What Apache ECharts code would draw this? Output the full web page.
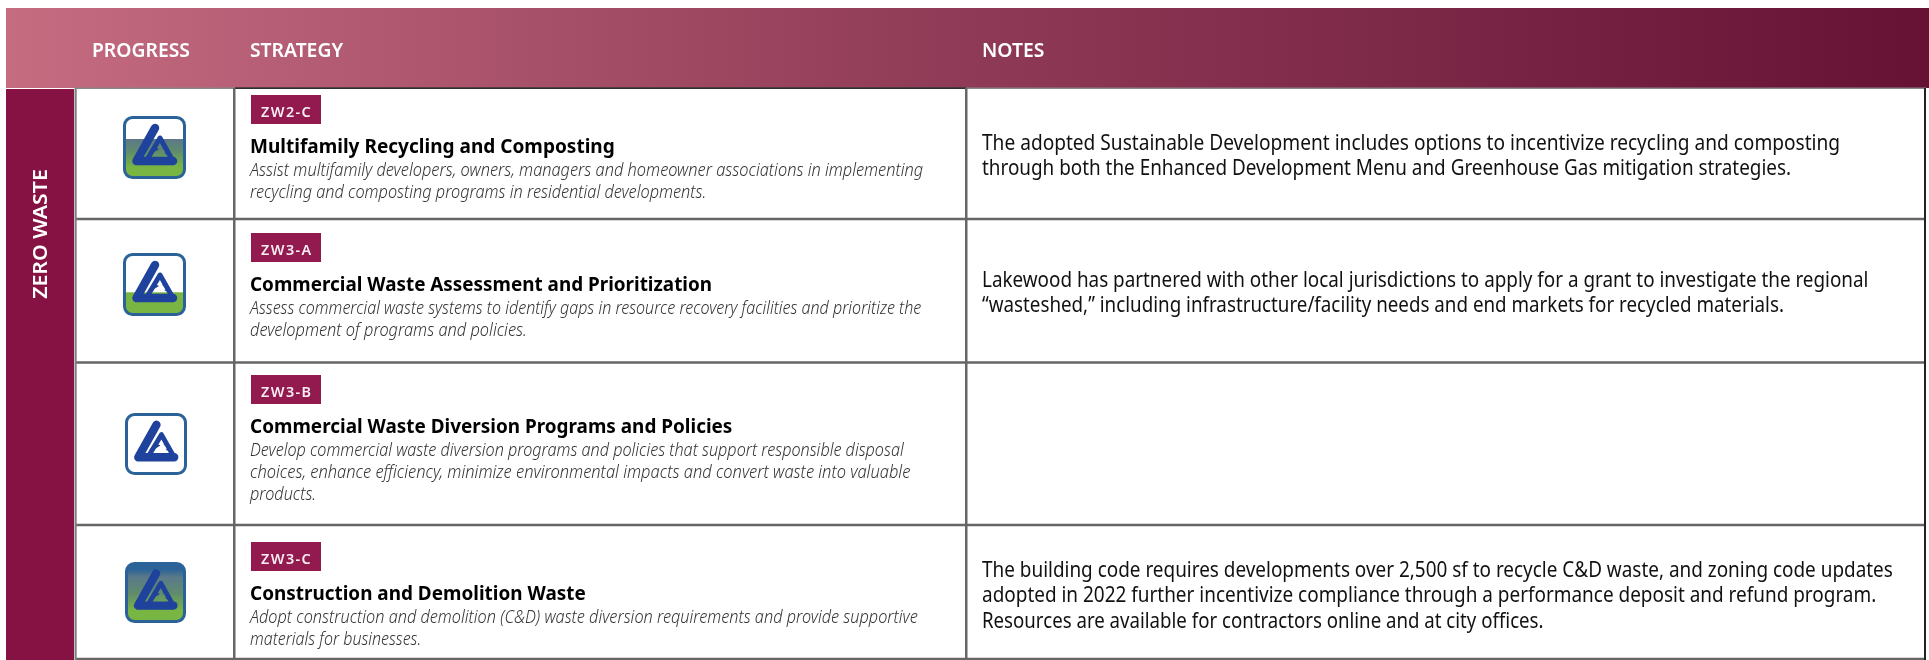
<!DOCTYPE html>
<html><head><meta charset="utf-8">
<style>html,body{margin:0;padding:0;background:#fff}#c{width:1929px;height:660px}</style>
<script src="https://cdn.jsdelivr.net/npm/echarts@6/dist/echarts.min.js"></script>
</head><body><div id="c"></div>
<script>
// ---- data ----
var sectionLabel = 'ZERO WASTE';
var columnHeaders = ['PROGRESS', 'STRATEGY', 'NOTES'];
var codes = ['ZW2-C', 'ZW3-A', 'ZW3-B', 'ZW3-C'];
var titles = ['Multifamily Recycling and Composting','Commercial Waste Assessment and Prioritization','Commercial Waste Diversion Programs and Policies','Construction and Demolition Waste'];
var descriptions = [
 ['Assist multifamily developers, owners, managers and homeowner associations in implementing','recycling and composting programs in residential developments.'],
 ['Assess commercial waste systems to identify gaps in resource recovery facilities and prioritize the','development of programs and policies.'],
 ['Develop commercial waste diversion programs and policies that support responsible disposal','choices, enhance efficiency, minimize environmental impacts and convert waste into valuable','products.'],
 ['Adopt construction and demolition (C&D) waste diversion requirements and provide supportive','materials for businesses.']
];
var notes = [
 ['The adopted Sustainable Development includes options to incentivize recycling and composting','through both the Enhanced Development Menu and Greenhouse Gas mitigation strategies.'],
 ['Lakewood has partnered with other local jurisdictions to apply for a grant to investigate the regional','\u201cwasteshed,\u201d including infrastructure/facility needs and end markets for recycled materials.'],
 [],
 ['The building code requires developments over 2,500 sf to recycle C&D waste, and zoning code updates','adopted in 2022 further incentivize compliance through a performance deposit and refund program.','Resources are available for contractors online and at city offices.']
];
var progressState = ['mid', 'low', 'none', 'high'];
// ---- layout ----
var FONT = '"Noto Sans"';
var rowLines = [88, 219, 362.5, 525, 659];
var tagTops = [95, 233, 375, 542];
var noteFirstBaseline = [149, 286, 0, 576];
var iconBoxes = [[123,116,63],[123,253,63],[125,413,62],[125,562,61]];
var descFit = [[.934,.9295],[.917,.935],[.9235,.939,.927],[.929,.914]];
var noteFit = [[.9098,.899],[.898,.894],[],[.901,.902,.888]];
var titleFit = [.976,.968,.97,.97];

function txt(x, base, s, size, color, weight, style, sx) {
  return {type:'text', x:x, y:base-0.25*size, scaleX:sx, silent:true,
    style:{text:s, fill:color, font:(style||'normal')+' '+(weight||400)+' '+size+'px '+FONT, align:'left', verticalAlign:'middle'}};
}
var gradientStops = {
  mid:[[0,'#ffffff'],[0.36,'#ffffff'],[0.37,'#5d7889'],[0.55,'#5f8a6f'],[0.82,'#79b542'],[1,'#79b542']],
  low:[[0,'#ffffff'],[0.62,'#ffffff'],[0.63,'#79b542'],[1,'#79b542']],
  none:[[0,'#ffffff'],[1,'#ffffff']],
  high:[[0,'#2b6399'],[0.12,'#2b6399'],[0.25,'#5a7a8a'],[0.5,'#5f8a6f'],[0.8,'#79b542'],[1,'#79b542']]
};
function fillFor(state, s){
  return new echarts.graphic.LinearGradient(0,0,0,s,gradientStops[state].map(function(p){return {offset:p[0],color:p[1]};}),true);
}
function icon(i){
  var b = iconBoxes[i], x=b[0], y=b[1], s=b[2];
  var k = s/63;
  function P(px,py){ return [px*k, py*k]; }
  var blue='#1f429c';
  var bg = fillFor(progressState[i], s);
  return {type:'group', x:x, y:y, children:[
    {type:'rect', shape:{x:1.5,y:1.5,width:s-3,height:s-3,r:8}, style:{fill:bg, stroke:'#2b6399', lineWidth:3}},
    {type:'polyline', shape:{points:[P(32,12),P(13.5,45),P(50,45)]}, style:{fill:'none', stroke:blue, lineWidth:8.5*k, lineCap:'round', lineJoin:'round'}},
    {type:'polyline', shape:{points:[P(50,45),P(37,22),P(25,42)]}, style:{fill:'none', stroke:blue, lineWidth:5*k, lineCap:'round', lineJoin:'round'}},
    {type:'polygon', shape:{points:[P(42,30),P(39,32),P(44,35)]}, style:{fill:blue}},
    {type:'polygon', shape:{points:[P(45,36),P(41,37),P(47,40)]}, style:{fill:blue}},
    {type:'polygon', shape:{points:[P(32,31),P(36,33),P(31,36)]}, style:{fill:blue}}
  ]};
}
function renderRow(params, api){
  var i = api.value(0);
  var bottom = rowLines[i+1];
  var ch = [];
  var tag = tagTops[i];
  ch.push({type:'rect', shape:{x:251,y:tag,width:70,height:29}, style:{fill:'#931a4f'}});
  ch.push(txt(261, tag+21, codes[i].split('').join('\u200a'), 15, '#f8edf2', 600, 'normal', 0.96));
  var ty = tag+57;
  ch.push(txt(250, ty, titles[i], 19.5, '#000000', 700, 'normal', titleFit[i]));
  descriptions[i].forEach(function(l,j){ ch.push(txt(250, ty+23+j*22, l, 17.5, '#333333', 300, 'italic', descFit[i][j])); });
  notes[i].forEach(function(l,j){ ch.push(txt(982, noteFirstBaseline[i]+j*25.7, l, 21, '#111111', 400, 'normal', noteFit[i][j])); });
  ch.push(icon(i));
  ch.push({type:'rect', shape:{x:75,y:bottom-1.25,width:1851,height:2.5}, style:{fill:'#666666'}});
  return {type:'group', children:ch};
}
var chart = echarts.init(document.getElementById('c'), null, {renderer:'canvas'});
function hdr(x, s){ var e = txt(x,56,s,20,'#ffffff',600,'normal',0.965); e.z=6; return e; }
chart.setOption({
  animation:false,
  backgroundColor:'#ffffff',
  graphic:{elements:[
    {type:'rect', z:1, shape:{x:6,y:8,width:1923,height:80}, style:{fill:new echarts.graphic.LinearGradient(0,0,1,0,[{offset:0,color:'#c56c81'},{offset:0.5,color:'#8f3a56'},{offset:1,color:'#651235'}])}},
    {type:'rect', z:1, shape:{x:6,y:89,width:68,height:571}, style:{fill:'#851242'}},
    {type:'rect', z:1, shape:{x:75,y:87.5,width:1851,height:1.5}, style:{fill:'#888888'}},
    {type:'rect', z:2, shape:{x:235,y:87.5,width:731,height:1.2}, style:{fill:'#111111'}},
    {type:'rect', z:5, shape:{x:74.5,y:88,width:2.2,height:572}, style:{fill:'#808080'}},
    {type:'rect', z:5, shape:{x:233,y:88,width:2.5,height:572}, style:{fill:'#666666'}},
    {type:'rect', z:5, shape:{x:965,y:88,width:2.5,height:572}, style:{fill:'#666666'}},
    {type:'rect', z:5, shape:{x:1924,y:88,width:2,height:572}, style:{fill:'#222222'}},
    hdr(92,columnHeaders[0]), hdr(250,columnHeaders[1]), hdr(982,columnHeaders[2]),
    {type:'text', z:6, x:41.5, y:234, rotation:Math.PI/2, scaleX:1.065, style:{text:sectionLabel, fill:'#ffffff', font:'600 20px '+FONT, align:'center', verticalAlign:'middle'}}
  ]},
  series:[{type:'custom', coordinateSystem:'none', silent:true, data:codes.map(function(c,i){return [i];}), renderItem:renderRow, encode:{}}]
});
</script></body></html>
